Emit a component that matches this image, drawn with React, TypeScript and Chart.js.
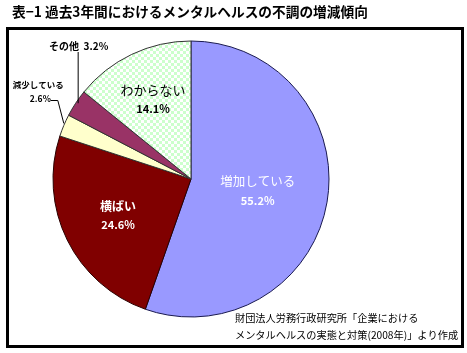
import React, { useEffect, useRef } from "react";
import { Chart, registerables } from "chart.js";

Chart.register(...registerables);

const titleText = "表−1 過去3年間におけるメンタルヘルスの不調の増減傾向";
const categories = ["増加している", "横ばい", "減少している", "その他", "わからない"];
const values = [55.2, 24.6, 2.6, 3.2, 14.1];
const valueLabels = ["55.2%", "24.6%", "2.6%", "3.2%", "14.1%"];
const sourceLines = [
  "財団法人労務行政研究所「企業における",
  "メンタルヘルスの実態と対策(2008年)」より作成",
];

const JP = '"Noto Sans CJK JP", "DejaVu Sans", sans-serif';

function makeChecker(): CanvasPattern | string {
  const c = document.createElement("canvas");
  c.width = 6;
  c.height = 6;
  const g = c.getContext("2d");
  if (!g) return "#CCFFCC";
  g.fillStyle = "#FFFFFF";
  g.fillRect(0, 0, 6, 6);
  g.fillStyle = "#CCFFCC";
  g.fillRect(0, 0, 3, 3);
  g.fillRect(3, 3, 3, 3);
  const p = g.createPattern(c, "repeat");
  return p || "#CCFFCC";
}

// inner label placement: fraction of radius (index-matched to slices); null = outside label
const innerFrac: (number | null)[] = [0.49, 0.59, null, null, 0.64];
const innerColor = ["#FFFFFF", "#FFFFFF", "#000000", "#000000", "#000000"];
const innerWeight = ["normal", "bold", "bold", "bold", "normal"];
const innerSize = [12.5, 12, 8.5, 10, 13];

const decorPlugin = {
  id: "decor",
  beforeDraw(chart: any) {
    const ctx = chart.ctx;
    ctx.save();
    ctx.fillStyle = "#FFFFFF";
    ctx.fillRect(0, 0, chart.width, chart.height);
    ctx.fillStyle = "#000000";
    ctx.font = `bold 13.7px ${JP}`;
    ctx.textBaseline = "middle";
    ctx.textAlign = "left";
    ctx.fillText(titleText, 12, 12);
    ctx.lineWidth = 3;
    ctx.strokeStyle = "#000000";
    ctx.strokeRect(7.5, 28.5, 455, 318);
    ctx.restore();
  },
  afterDraw(chart: any) {
    const ctx = chart.ctx;
    const meta = chart.getDatasetMeta(0);
    ctx.save();
    ctx.textBaseline = "middle";
    meta.data.forEach((arc: any, i: number) => {
      const { x, y, startAngle, endAngle, outerRadius } = arc.getProps(
        ["x", "y", "startAngle", "endAngle", "outerRadius"],
        true
      );
      const mid = (startAngle + endAngle) / 2;
      const f = innerFrac[i];
      if (f !== null) {
        const lx = x + Math.cos(mid) * outerRadius * f;
        const ly = y + Math.sin(mid) * outerRadius * f;
        ctx.fillStyle = innerColor[i];
        ctx.textAlign = "center";
        ctx.font = `${innerWeight[i]} ${innerSize[i]}px ${JP}`;
        ctx.fillText(categories[i], lx, ly - 9);
        ctx.font = `bold 11px ${JP}`;
        ctx.fillText(valueLabels[i], lx, ly + 10);
      } else {
        const ex = x + Math.cos(mid) * outerRadius;
        const ey = y + Math.sin(mid) * outerRadius;
        ctx.strokeStyle = "#000000";
        ctx.lineWidth = 1;
        ctx.fillStyle = "#000000";
        ctx.font = `bold ${innerSize[i]}px ${JP}`;
        if (i === 3) {
          // vertical leader up to label
          ctx.beginPath();
          ctx.moveTo(ex + 2.5, ey);
          ctx.lineTo(ex + 2.5, 52);
          ctx.stroke();
          ctx.textAlign = "center";
          ctx.fillText(categories[i] + "  " + valueLabels[i], ex + 3, 46);
        } else {
          const kx = ex - 6;
          const ky = 100.5;
          ctx.beginPath();
          ctx.moveTo(ex, ey - 2);
          ctx.lineTo(kx, ky);
          ctx.lineTo(kx - 7, ky);
          ctx.stroke();
          ctx.textAlign = "right";
          ctx.fillText(valueLabels[i], kx - 7, 99);
          ctx.fillText(categories[i], ex, 85);
        }
      }
    });
    ctx.fillStyle = "#000000";
    ctx.textAlign = "left";
    ctx.font = `10.2px ${JP}`;
    ctx.fillText(sourceLines[0], 235, 318);
    ctx.fillText(sourceLines[1], 235, 335);
    ctx.restore();
  },
};

export default function App() {
  const ref = useRef<HTMLCanvasElement>(null);
  useEffect(() => {
    document.body.style.margin = "0";
    if (!ref.current) return;
    const chart = new Chart(ref.current, {
      type: "pie",
      data: {
        labels: categories,
        datasets: [
          {
            data: values,
            backgroundColor: ["#9999FF", "#800000", "#FFFFCC", "#993366", makeChecker()],
            borderColor: ["#1A1A50", "#2A0000", "#333333", "#333333", "#333333"],
            borderWidth: 1,
          },
        ],
      },
      options: {
        animation: false,
        responsive: false,
        devicePixelRatio: 1,
        radius: 138,
        layout: { padding: { left: 53, right: 138, top: 41, bottom: 36 } },
        plugins: {
          legend: { display: false },
          tooltip: { enabled: false },
          title: { display: false },
        },
      },
      plugins: [decorPlugin],
    });
    return () => chart.destroy();
  }, []);
  return (
    <div style={{ width: 467, height: 353 }}>
      <canvas ref={ref} width={467} height={353} style={{ display: "block" }} />
    </div>
  );
}
